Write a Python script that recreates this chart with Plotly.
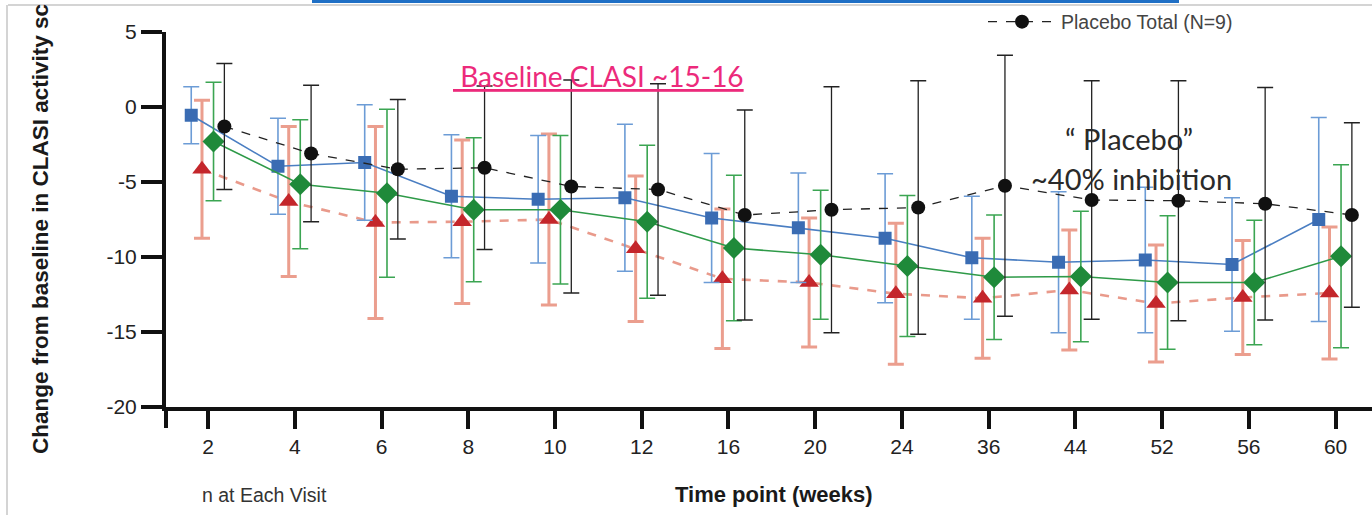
import numpy as np
import plotly.graph_objects as go

weeks = ["2", "4", "6", "8", "10", "12", "16", "20", "24", "36", "44", "52", "56", "60"]

blue_mean = [-0.55, -3.95, -3.7, -5.95, -6.15, -6.05, -7.4, -8.05, -8.75, -10.05, -10.35, -10.2, -10.5, -7.5]
blue_err = [1.9, 3.2, 3.85, 4.1, 4.25, 4.9, 4.3, 3.65, 4.3, 4.1, 4.7, 4.85, 4.45, 6.8]

red_mean = [-4.15, -6.3, -7.7, -7.65, -7.5, -9.45, -11.45, -11.7, -12.45, -12.75, -12.2, -13.1, -12.7, -12.4]
red_err = [4.6, 5.0, 6.4, 5.45, 5.7, 4.85, 4.65, 4.3, 4.7, 4.0, 4.0, 3.9, 3.8, 4.4]

green_mean = [-2.3, -5.15, -5.75, -6.85, -6.85, -7.65, -9.4, -9.85, -10.6, -11.35, -11.3, -11.7, -11.7, -9.95]
green_err = [3.95, 4.3, 5.6, 4.8, 4.95, 5.1, 4.85, 4.3, 4.7, 4.15, 4.35, 4.45, 4.15, 6.1]

placebo_mean = [-1.3, -3.1, -4.15, -4.05, -5.3, -5.5, -7.2, -6.85, -6.7, -5.25, -6.2, -6.25, -6.45, -7.2]
placebo_err = [4.2, 4.55, 4.65, 5.45, 7.1, 7.05, 7.0, 8.2, 8.45, 8.7, 7.95, 8.0, 7.75, 6.15]

idx = np.arange(len(weeks))
FONT = "Liberation Sans, Arial, sans-serif"
CAL = "Lato, Open Sans, sans-serif"

fig = go.Figure()

# red (dashed salmon line, dark red triangles)
fig.add_trace(go.Scatter(
    x=idx - 0.07, y=red_mean, mode="lines+markers", showlegend=False,
    line=dict(color="rgba(226,120,100,0.75)", width=2.6, dash="dash"),
    marker=dict(symbol="triangle-up", size=17, color="#C4262B"),
    error_y=dict(type="data", array=red_err, visible=True, color="rgba(230,134,114,0.8)",
                 thickness=3, width=8),
))
# blue squares
fig.add_trace(go.Scatter(
    x=idx - 0.194, y=blue_mean, mode="lines+markers", showlegend=False,
    line=dict(color="#4A7EC2", width=1.6),
    marker=dict(symbol="square", size=13, color="#3A6CB3"),
    error_y=dict(type="data", array=blue_err, visible=True, color="#6C9CD6",
                 thickness=1.6, width=8),
))
# green diamonds
fig.add_trace(go.Scatter(
    x=idx + 0.063, y=green_mean, mode="lines+markers", showlegend=False,
    line=dict(color="#2E9A48", width=1.6),
    marker=dict(symbol="diamond", size=17, color="#1F8A3A"),
    error_y=dict(type="data", array=green_err, visible=True, color="#3BA552",
                 thickness=1.6, width=8),
))
# placebo black
fig.add_trace(go.Scatter(
    x=idx + 0.188, y=placebo_mean, mode="lines+markers", name="Placebo Total (N=9)",
    line=dict(color="#222222", width=1.3, dash="dash"),
    marker=dict(symbol="circle", size=14, color="#111111"),
    error_y=dict(type="data", array=placebo_err, visible=True, color="#222222",
                 thickness=1.3, width=8),
))

fig.update_layout(
    width=1372, height=515,
    margin=dict(l=166, r=0, t=32, b=108),
    paper_bgcolor="white", plot_bgcolor="white",
    font=dict(family=FONT, color="#222222"),
    showlegend=True,
    legend=dict(x=(983 - 166) / 1206, y=(407 - 22) / 375, xanchor="left", yanchor="middle",
                itemwidth=68, bgcolor="rgba(0,0,0,0)",
                font=dict(size=19.5, color="#444444", family=FONT)),
    xaxis=dict(
        range=[-0.485, 13.42], tickmode="array", tickvals=idx, ticktext=weeks,
        showgrid=False, zeroline=False, showline=True, linecolor="#111111", linewidth=4,
        ticks="outside", ticklen=18, tickwidth=4, tickcolor="#111111",
        tickfont=dict(size=21, color="#222222", family=FONT),
    ),
    yaxis=dict(
        range=[-20, 5], tickvals=[5, 0, -5, -10, -15, -20],
        ticktext=["5", "0", "-5", "-10", "-15", "-20"],
        showgrid=False, zeroline=False, showline=True, linecolor="#111111", linewidth=4,
        ticks="outside", ticklen=21, tickwidth=4, tickcolor="#111111",
        tickfont=dict(size=21, color="#222222", family=FONT),
    ),
)

# y-axis line extension below the x axis
fig.add_shape(type="line", xref="paper", yref="paper", x0=0, x1=0, y0=0, y1=-0.056,
              line=dict(color="#111111", width=4))
# screenshot frame decorations
fig.add_shape(type="line", xref="paper", yref="paper", x0=(8 - 166) / 1206, x1=1.0,
              y0=(407 - 5) / 375, y1=(407 - 5) / 375, line=dict(color="#D4D4D4", width=2))
fig.add_shape(type="line", xref="paper", yref="paper", x0=(7 - 166) / 1206, x1=(7 - 166) / 1206,
              y0=(407 - 5) / 375, y1=(407 - 515) / 375, line=dict(color="#D4D4D4", width=2))
fig.add_shape(type="rect", xref="paper", yref="paper", x0=(312 - 166) / 1206, x1=(1179 - 166) / 1206,
              y0=(407 - 3) / 375, y1=(407 + 2) / 375, line=dict(width=0), fillcolor="#1F6FC5")

ann = []
ann.append(dict(text="Change from baseline in CLASI activity sc", textangle=-90,
                x=(40 - 166) / 1206, y=(407 - 456) / 375, xref="paper", yref="paper",
                xanchor="center", yanchor="bottom", showarrow=False,
                font=dict(size=22.5, family=FONT, color="#1a1a1a", weight="bold")))
ann.append(dict(text="<b>Time point (weeks)</b>", x=(774 - 166) / 1206, y=(407 - 494) / 375,
                xref="paper", yref="paper", xanchor="center", yanchor="middle", showarrow=False,
                font=dict(size=22, family=FONT, color="#1a1a1a")))
ann.append(dict(text="n at Each Visit", x=(200 - 166) / 1206, y=(407 - 495) / 375,
                xref="paper", yref="paper", xanchor="left", yanchor="middle", showarrow=False,
                font=dict(size=19.5, family=FONT, color="#333333")))
ann.append(dict(text="<u> Baseline CLASI ~15-16</u>", x=(598 - 166) / 1206, y=(407 - 76) / 375,
                xref="paper", yref="paper", xanchor="center", yanchor="middle", showarrow=False,
                font=dict(size=28, family=CAL, color="#EC2A7B")))
ann.append(dict(text="“ Placebo”", x=(1129 - 166) / 1206, y=(407 - 138) / 375,
                xref="paper", yref="paper", xanchor="center", yanchor="middle", showarrow=False,
                font=dict(size=29, family=CAL, color="#2a2a2a")))
ann.append(dict(text="~40% inhibition", x=(1131 - 166) / 1206, y=(407 - 178) / 375,
                xref="paper", yref="paper", xanchor="center", yanchor="middle", showarrow=False,
                font=dict(size=29, family=CAL, color="#2a2a2a")))
fig.update_layout(annotations=ann)

fig.write_html("out.html")
